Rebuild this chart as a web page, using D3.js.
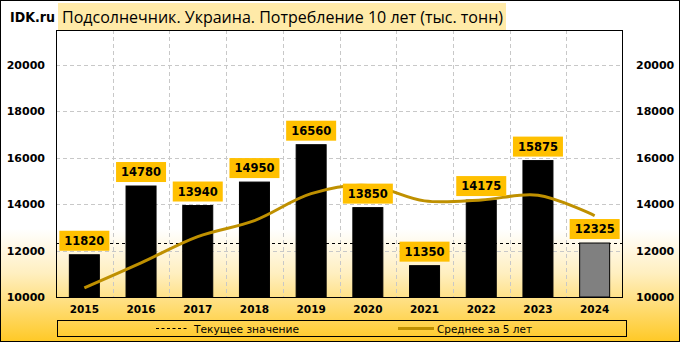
<!DOCTYPE html>
<html><head><meta charset="utf-8">
<script src="https://cdn.jsdelivr.net/npm/d3@7"></script>
<style>body{margin:0;background:#fff}svg{display:block}</style>
</head><body>
<script>
const years = ["2015","2016","2017","2018","2019","2020","2021","2022","2023","2024"];
const consumption = [11820,14780,13940,14950,16560,13850,11350,14175,15875,12325];
const avg5 = [10390,11470,12600,13290,14450,14800,14140,14180,14380,13500];
const currentValue = 12325;
const yTicks = [10000,12000,14000,16000,18000,20000];
const title = "Подсолнечник. Украина. Потребление 10 лет (тыс. тонн)";
const legendLabels = ["Текущее значение","Среднее за 5 лет"];

const W=680,H=342;
const svg=d3.select("body").append("svg").attr("width",W).attr("height",H);
const defs=svg.append("defs");
const g=defs.append("linearGradient").attr("id","bg").attr("x1",0).attr("y1",0).attr("x2",0).attr("y2",1);
g.append("stop").attr("offset","0.67").attr("stop-color","#ffffff");
g.append("stop").attr("offset","0.80").attr("stop-color","#ffefc0");
g.append("stop").attr("offset","1").attr("stop-color","#ffc926");
svg.append("rect").attr("x",0.5).attr("y",0.5).attr("width",W-1).attr("height",H-1).attr("fill","url(#bg)").attr("stroke","#000");

const L=56,R=623,T=30,B=297;
const xb=d3.scaleBand().domain(years).range([L,R]);
const barW=30;
const cx=yr=>xb(yr)+xb.bandwidth()/2;
const y=d3.scaleLinear().domain([10000,21500]).range([B,T]);

// grid
const grid=svg.append("g").attr("stroke","#c8c8c8").attr("stroke-dasharray","4,3").attr("stroke-width",1);
yTicks.filter(v=>v>10000).forEach(v=>{
  grid.append("line").attr("x1",L).attr("x2",R).attr("y1",Math.round(y(v))+0.5).attr("y2",Math.round(y(v))+0.5);
});
years.slice(1).forEach(yr=>{
  const xx=Math.round(xb(yr))+0.5;
  grid.append("line").attr("x1",xx).attr("x2",xx).attr("y1",T).attr("y2",B);
});

// current value dashed line
svg.append("line").attr("x1",L).attr("x2",R).attr("y1",Math.round(y(currentValue))+0.5).attr("y2",Math.round(y(currentValue))+0.5)
  .attr("stroke","#000").attr("stroke-dasharray","3,3").attr("stroke-width",1);

// bars
svg.append("g").selectAll("rect").data(consumption).join("rect")
  .attr("x",(d,i)=>cx(years[i])-barW/2).attr("width",barW)
  .attr("y",d=>y(d)).attr("height",d=>B-y(d))
  .attr("fill",(d,i)=>i===years.length-1?"#808080":"#000")
  .attr("stroke","#000").attr("stroke-width",1);

// avg line
const line=d3.line().x((d,i)=>cx(years[i])).y(d=>y(d)).curve(d3.curveCatmullRom.alpha(0.5));
svg.append("path").attr("d",line(avg5)).attr("fill","none").attr("stroke","#bf9000").attr("stroke-width",3);

// plot border
svg.append("rect").attr("x",L+0.5).attr("y",T+0.5).attr("width",R-L-1).attr("height",B-T).attr("fill","none").attr("stroke","#000");

// labels
const lab=svg.append("g");
consumption.forEach((v,i)=>{
  const c=cx(years[i]);
  const by=y(v)-4;
  lab.append("rect").attr("x",c-25).attr("y",by-20).attr("width",50).attr("height",20).attr("fill","#ffc000");
  lab.append("text").attr("x",c).attr("y",by-6).attr("text-anchor","middle")
    .attr("font-family","DejaVu Sans").attr("font-weight","bold").attr("font-size","11.5px").text(v);
});

// axes labels
const ax=svg.append("g").attr("font-family","DejaVu Sans").attr("font-weight","bold").attr("font-size","11px").attr("fill","#000");
yTicks.forEach(v=>{
  ax.append("text").attr("x",45).attr("y",y(v)+4).attr("text-anchor","end").text(v);
  ax.append("text").attr("x",636).attr("y",y(v)+4).attr("text-anchor","start").text(v);
});
years.forEach(yr=>{
  ax.append("text").attr("x",cx(yr)).attr("y",313).attr("text-anchor","middle").attr("font-size","10.5px").text(yr);
});

// title
svg.append("rect").attr("x",58).attr("y",3).attr("width",448).attr("height",27).attr("fill","#ffeaa8");
svg.append("text").attr("x",62).attr("y",23).attr("font-family","Open Sans").attr("font-size","16.5px").attr("fill","#000")
  .attr("textLength",441).attr("lengthAdjust","spacingAndGlyphs").text(title);
svg.append("text").attr("x",10).attr("y",22).attr("font-family","DejaVu Sans").attr("font-weight","bold").attr("font-size","13.5px")
  .attr("textLength",45).attr("lengthAdjust","spacingAndGlyphs").text("IDK.ru");

// legend
svg.append("rect").attr("x",57.5).attr("y",320.5).attr("width",569).attr("height",16).attr("fill","none").attr("stroke","#000");
svg.append("line").attr("x1",156).attr("x2",188).attr("y1",328.5).attr("y2",328.5).attr("stroke","#000").attr("stroke-dasharray","3,2.5");
svg.append("text").attr("x",194).attr("y",332.5).attr("font-family","DejaVu Sans").attr("font-size","10.5px").attr("textLength",105).attr("lengthAdjust","spacingAndGlyphs").text(legendLabels[0]);
svg.append("line").attr("x1",398).attr("x2",434).attr("y1",328.5).attr("y2",328.5).attr("stroke","#bf9000").attr("stroke-width",3);
svg.append("text").attr("x",437).attr("y",332.5).attr("font-family","DejaVu Sans").attr("font-size","10.5px").attr("textLength",95).attr("lengthAdjust","spacingAndGlyphs").text(legendLabels[1]);
</script>
</body></html>
